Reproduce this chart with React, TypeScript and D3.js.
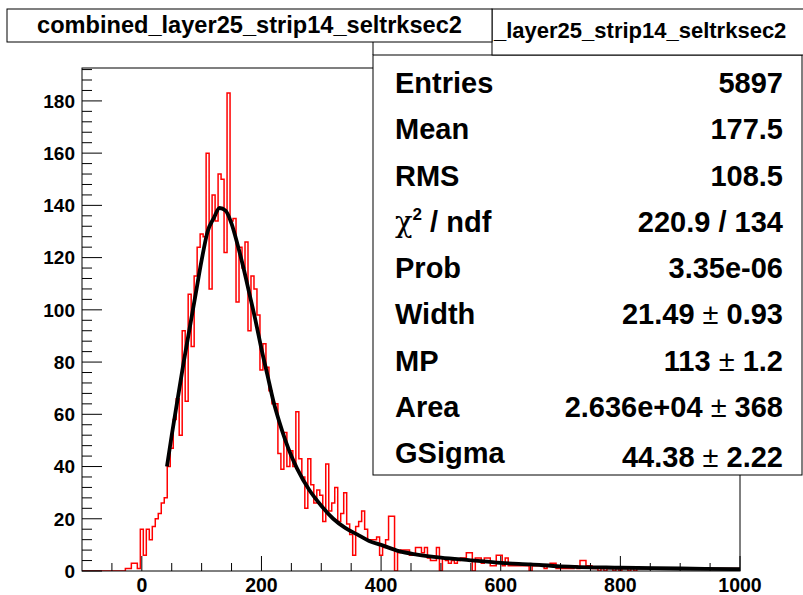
import React from 'react';
import * as d3 from 'd3';

// ---------------- data ----------------
const histFirstCenter = -25; // centre of first listed bin
const histBinWidth = 5;
const histCounts = [
  1, 1, 3, 3, 1, 16, 6, 16, 12, 17, 20, 22, 26, 28, // -25 .. 40
  40, 47, 58, 66, 52, 92, 65, 106, 86, 113, 124, 129, // 45 .. 100
  128, 160, 108, 144, 134, 152, 150, 122, 183, 134, 135, 103, 124, 116, 126, 92, 113, 108, 98, 77, // 105 .. 200
  87, 78, 69, 64, 64, 45, 39, 53, 40, 46, 40, 61, 43, 36, 24, 43, 33, 26, 31, 29, // 205 .. 300
  19, 41, 23, 26, 32, 19, 22, 30, 18, 14, 6, 17, 19, 23, 16, 12, 12, 12, 13, 6, // 305 .. 400
  9, 12, 21, 21, 0, 7, 8, 8, 8, 6, 6, 9, 9, 7, 9, 5, 4, 4, 9, 0, // 405 .. 500
  5, 4, 3, 4, 3, 4, 5, 5, 7, 7, 0, 5, 5, 3, 5, 5, 2, 2, 6, 6, // 505 .. 600
  2, 5, 2, 2, 2, 2, 2, 2, 2, 0, 2, 2, 2, 2, 1, 2, 3, 3, 1, 1, // 605 .. 700
  1, 1, 1, 1, 2, 1, 4, 4, 2, 2, 1, 1, 0, 1, 0, 1, 1, 0, 1, 0, // 705 .. 800
  1, 1, 0, 1, 0, 1, // 805 .. 830
];

const fitX = [42, 50, 60, 70, 80, 90, 100, 110, 120, 130, 140, 150, 160, 170, 180, 190, 200, 210, 220, 230, 240, 250, 260, 280, 300, 320, 340, 360, 380, 400, 430, 460, 500, 550, 600, 650, 700, 800, 900, 1000];
const fitY = [40, 52, 66, 80, 93, 106, 119, 130, 135, 139, 138, 133, 125, 116, 106, 96, 85, 75, 65, 57, 50, 44, 39, 31, 25, 20, 16.5, 14, 11.5, 10, 7.6, 6.3, 5.1, 4.1, 3.1, 2.5, 1.8, 1.25, 0.95, 0.7];

const xTickValues = [0, 200, 400, 600, 800, 1000];
const yTickValues = [0, 20, 40, 60, 80, 100, 120, 140, 160, 180];

const titleMain = 'combined_layer25_strip14_seltrksec2';
const titleStats = '_layer25_strip14_seltrksec2';

const statNames = ['Entries', 'Mean', 'RMS', 'CHI2', 'Prob', 'Width', 'MP', 'Area', 'GSigma'];
const statMain = ['5897', '177.5', '108.5', '220.9 / 134', '3.35e-06', '21.49', '113', '2.636e+04', '44.38'];
const statErr = ['', '', '', '', '', '0.93', '1.2', '368', '2.22'];

// ---------------- layout ----------------
const W = 803;
const H = 595;
const frame = { left: 82, right: 740, top: 68, bottom: 571 };
const FONT = "'Liberation Sans', Arial, Helvetica, sans-serif";

export default function App() {
  const x = d3.scaleLinear().domain([-100, 1000]).range([frame.left, frame.right]);
  const y = d3.scaleLinear().domain([0, 192.6]).range([frame.bottom, frame.top]);

  // step outline of the histogram
  const pts: [number, number][] = [];
  pts.push([-100, 0]);
  histCounts.forEach((v, i) => {
    const c = histFirstCenter + i * histBinWidth;
    pts.push([c - histBinWidth / 2, v]);
    pts.push([c + histBinWidth / 2, v]);
  });
  pts.push([1000, 0]);
  const stepPts: [number, number][] = [];
  for (let i = 0; i < pts.length; i++) {
    if (i > 0 && pts[i][1] !== pts[i - 1][1]) {
      stepPts.push([pts[i][0], pts[i - 1][1]]);
    }
    stepPts.push(pts[i]);
  }
  const histPath = d3
    .line<[number, number]>()
    .x((d) => x(d[0]))
    .y((d) => y(d[1]))(stepPts) || '';

  const fitPath = d3
    .line<number>()
    .x((_, i) => x(fitX[i]))
    .y((d) => y(d))
    .curve(d3.curveMonotoneX)(fitY) || '';

  const yMinor = d3.range(0, 193, 4).filter((v) => v % 20 !== 0);
  const xMinor = d3.range(-50, 1000, 50).filter((v) => v % 200 !== 0);

  const statTop = 55;
  const statBottom = 475;
  const statLeft = 373;
  const rowBase = (i: number) => 93 + i * 46.25;

  return (
    <svg
      width={W}
      height={H}
      viewBox={`0 0 ${W} ${H}`}
      style={{ position: 'absolute', left: 0, top: 0, background: '#fff' }}
      fontFamily={FONT}
    >
      <rect x={0} y={0} width={W} height={H} fill="#fff" />

      <defs>
        <clipPath id="frameClip">
          <rect x={frame.left} y={frame.top} width={frame.right - frame.left} height={frame.bottom - frame.top} />
        </clipPath>
      </defs>
      <g clipPath="url(#frameClip)">
        <path d={histPath} fill="none" stroke="#ff0000" strokeWidth={1.5} />
        <path d={fitPath} fill="none" stroke="#000" strokeWidth={3.8} strokeLinejoin="round" />
      </g>

      {/* frame */}
      <rect
        x={frame.left}
        y={frame.top}
        width={frame.right - frame.left}
        height={frame.bottom - frame.top}
        fill="none"
        stroke="#000"
        strokeWidth={1}
      />

      {/* y axis ticks */}
      {yTickValues.map((v) => (
        <line key={'ym' + v} x1={frame.left} x2={frame.left + 20} y1={y(v)} y2={y(v)} stroke="#000" strokeWidth={1} />
      ))}
      {yMinor.map((v) => (
        <line key={'yn' + v} x1={frame.left} x2={frame.left + 10} y1={y(v)} y2={y(v)} stroke="#000" strokeWidth={1} />
      ))}
      {yTickValues.map((v) => (
        <text key={'yl' + v} x={75} y={y(v)} dy="0.36em" textAnchor="end" fontSize={19} fontWeight="bold">
          {v}
        </text>
      ))}

      {/* x axis ticks */}
      {xTickValues.map((v) => (
        <line key={'xm' + v} x1={x(v)} x2={x(v)} y1={frame.bottom} y2={frame.bottom - 15} stroke="#000" strokeWidth={1} />
      ))}
      {xMinor.map((v) => (
        <line key={'xn' + v} x1={x(v)} x2={x(v)} y1={frame.bottom} y2={frame.bottom - 8} stroke="#000" strokeWidth={1} />
      ))}
      {xTickValues.map((v) => (
        <text key={'xl' + v} x={x(v)} y={592} textAnchor="middle" fontSize={19.5} fontWeight="bold">
          {v}
        </text>
      ))}

      {/* stats box */}
      <line x1={statLeft} x2={statLeft} y1={42} y2={statTop} stroke="#000" strokeWidth={1} />
      <rect
        x={statLeft}
        y={statTop}
        width={W - 1 - statLeft}
        height={statBottom - statTop}
        fill="#fff"
        stroke="#000"
        strokeWidth={1}
      />
      {statNames.map((n, i) => (
        <text key={'sn' + i} x={395} y={rowBase(i)} fontSize={29} fontWeight="bold">
          {n === 'CHI2' ? (
            <>
              <tspan fontFamily="'DejaVu Serif', 'Liberation Serif', serif" fontWeight="normal">
                χ
              </tspan>
              <tspan fontSize={17} dy={-12}>2</tspan>
              <tspan dy={12}> / ndf</tspan>
            </>
          ) : (
            n
          )}
        </text>
      ))}
      {statMain.map((v, i) => (
        <text key={'sv' + i} x={783} y={rowBase(i) + (i === 8 ? 4 : 0)} fontSize={29} fontWeight="bold" textAnchor="end">
          {v}
          {statErr[i] !== '' ? (
            <>
              <tspan fontWeight="normal"> ± </tspan>
              <tspan>{statErr[i]}</tspan>
            </>
          ) : null}
        </text>
      ))}

      {/* title boxes */}
      <rect x={492} y={9} width={W - 492 + 5} height={46} fill="#fff" stroke="#000" strokeWidth={1} />
      <text x={494} y={38} fontSize={22} fontWeight="bold">
        {titleStats}
      </text>
      <rect x={7} y={9} width={485} height={33} fill="#fff" stroke="#000" strokeWidth={1} />
      <text x={249.5} y={33} fontSize={23.6} fontWeight="bold" textAnchor="middle">
        {titleMain}
      </text>
    </svg>
  );
}
